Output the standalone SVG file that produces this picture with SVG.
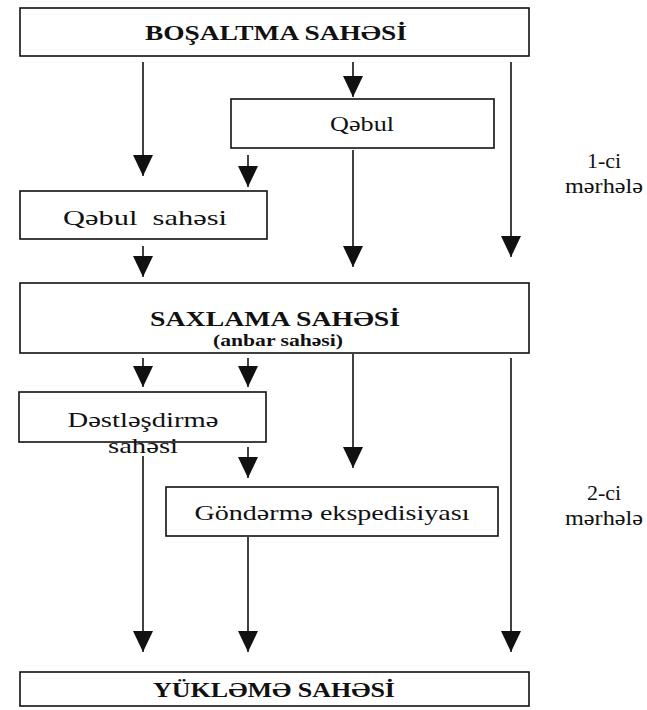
<svg xmlns="http://www.w3.org/2000/svg" width="647" height="710" viewBox="0 0 647 710">
  <style>
    .box { fill: #fff; stroke: #111; stroke-width: 1.6; }
    .link { fill: none; stroke: #111; stroke-width: 1.6; }
    .t { font-family: "Liberation Serif", "DejaVu Serif", "Noto Serif", serif; fill: #111; text-anchor: middle; }
    .b { font-weight: bold; font-size: 22px; }
    .r { font-size: 22px; }
    .s { font-weight: bold; font-size: 16px; }
  </style>
  <defs>
    <marker id="head" viewBox="0 0 20 21" refX="21" refY="10" markerWidth="20" markerHeight="21" markerUnits="userSpaceOnUse" orient="auto">
      <path d="M0,0 L21,10 L0,20 z" fill="#111"/>
    </marker>
  </defs>
  <rect width="647" height="710" fill="#fff"/>

  <!-- connectors -->
  <g id="connectors" class="link" marker-end="url(#head)">
    <!-- stage 1 -->
    <line x1="353" y1="62" x2="353" y2="97"/>
    <line x1="143" y1="62" x2="143" y2="176"/>
    <line x1="511" y1="62" x2="511" y2="257"/>
    <line x1="248" y1="155" x2="248" y2="187"/>
    <line x1="353" y1="150" x2="353" y2="267"/>
    <line x1="143" y1="246" x2="143" y2="277"/>
    <!-- stage 2 -->
    <line x1="143" y1="358" x2="143" y2="387"/>
    <line x1="248" y1="358" x2="248" y2="387"/>
    <line x1="353" y1="354" x2="353" y2="468"/>
    <line x1="511" y1="358" x2="511" y2="652"/>
    <line x1="248" y1="447" x2="248" y2="478"/>
    <line x1="143" y1="456" x2="143" y2="652"/>
    <line x1="248" y1="537" x2="248" y2="652"/>
  </g>

  <g id="bosaltma">
    <rect class="box" x="20" y="8" width="509" height="48"/>
    <text class="t b" x="276" y="40" textLength="262" lengthAdjust="spacingAndGlyphs">BOŞALTMA SAHƏSİ</text>
  </g>

  <g id="qebul">
    <rect class="box" x="231" y="99" width="263" height="49"/>
    <text class="t r" x="362" y="131" textLength="64" lengthAdjust="spacingAndGlyphs">Qəbul</text>
  </g>

  <g id="qebul-sahesi">
    <rect class="box" x="20" y="191" width="247" height="48"/>
    <text class="t r" x="145" y="225" textLength="164" lengthAdjust="spacingAndGlyphs" xml:space="preserve">Qəbul  sahəsi</text>
  </g>

  <g id="saxlama">
    <rect class="box" x="20" y="283" width="509" height="70"/>
    <text class="t b" x="275" y="326" textLength="250" lengthAdjust="spacingAndGlyphs">SAXLAMA SAHƏSİ</text>
    <text class="t s" x="278" y="346" textLength="130" lengthAdjust="spacingAndGlyphs">(anbar sahəsi)</text>
  </g>

  <g id="destlesdirme">
    <rect class="box" x="19" y="392" width="247" height="50"/>
    <text class="t r" x="143" y="427" textLength="151" lengthAdjust="spacingAndGlyphs">Dəstləşdirmə</text>
    <text class="t r" x="143" y="453" textLength="70" lengthAdjust="spacingAndGlyphs">sahəsi</text>
  </g>

  <g id="gonderme">
    <rect class="box" x="166" y="487" width="332" height="49"/>
    <text class="t r" x="332" y="520" textLength="275" lengthAdjust="spacingAndGlyphs">Göndərmə ekspedisiyası</text>
  </g>

  <g id="yukleme">
    <rect class="box" x="20" y="672" width="509" height="34"/>
    <text class="t b" x="274" y="697" textLength="242" lengthAdjust="spacingAndGlyphs">YÜKLƏMƏ SAHƏSİ</text>
  </g>

  <g id="stage-labels">
    <text class="t r" x="604" y="168">1-ci</text>
    <text class="t r" x="604" y="193" textLength="78" lengthAdjust="spacingAndGlyphs">mərhələ</text>
    <text class="t r" x="604" y="500">2-ci</text>
    <text class="t r" x="604" y="525" textLength="78" lengthAdjust="spacingAndGlyphs">mərhələ</text>
  </g>
</svg>
